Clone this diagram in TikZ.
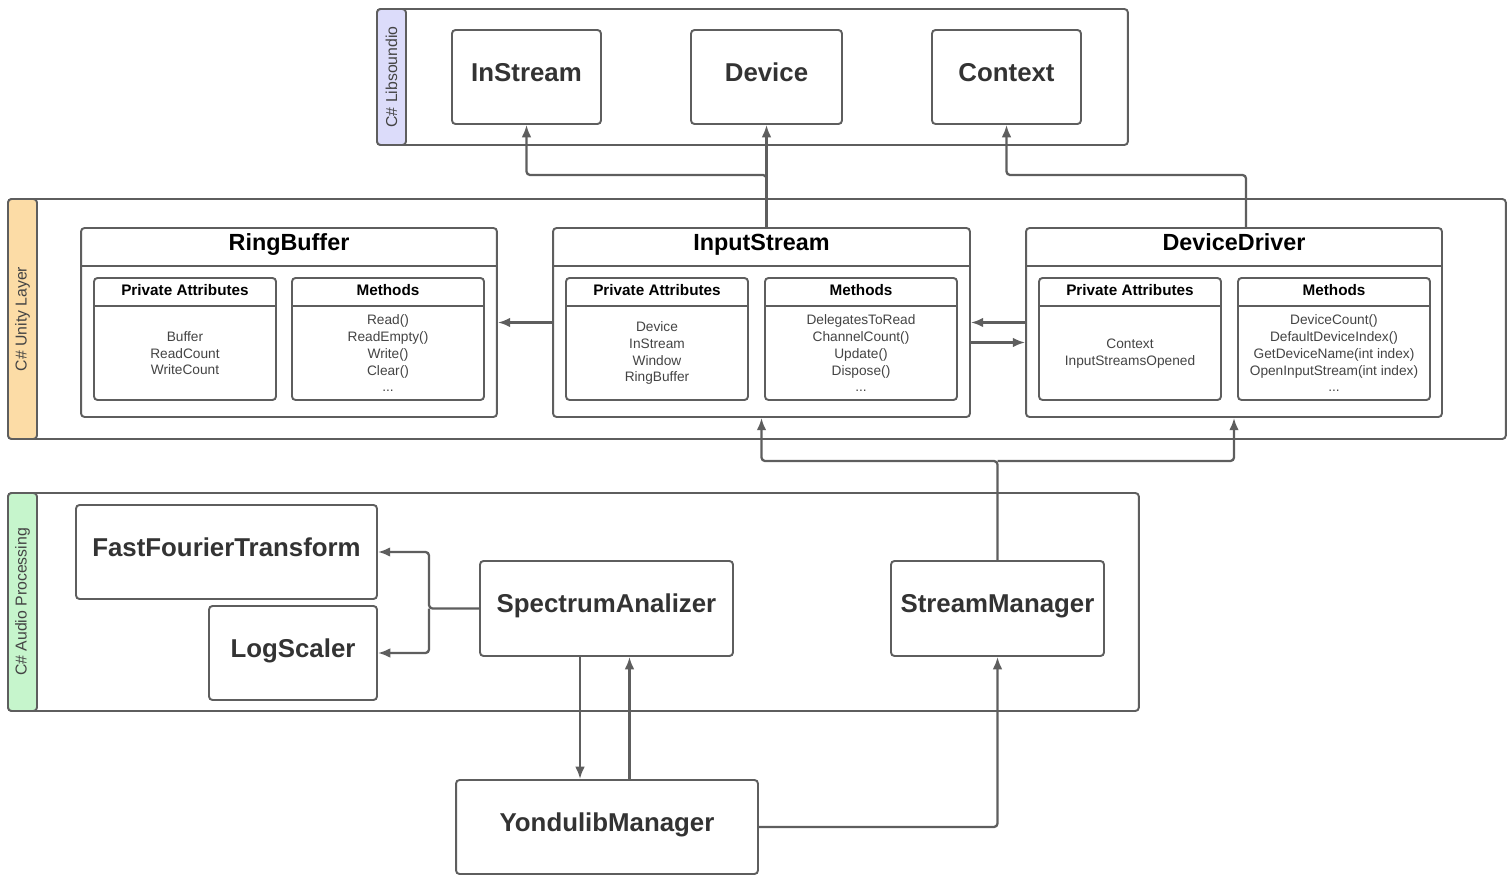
\documentclass[tikz,border=0pt]{standalone}
\usepackage{fontspec}
\setmainfont{Liberation Sans}
\usetikzlibrary{arrows.meta,calc}

\definecolor{linegray}{HTML}{5E5E5E}
\definecolor{textgray}{HTML}{333333}
\definecolor{bodygray}{HTML}{444444}
\definecolor{lanepurple}{HTML}{DCDCFA}
\definecolor{laneorange}{HTML}{FCDCA6}
\definecolor{lanegreen}{HTML}{C6F5CC}

\begin{document}
\begin{tikzpicture}[x=0.02cm, y=-0.02cm,
  every node/.style={inner sep=0pt, font=\fontsize{7.8}{9.5}\selectfont, text=bodygray},
  lane/.style={draw=linegray, fill=white, line width=1.1pt, rounded corners=2pt},
  lanetag/.style={draw=linegray, line width=1.1pt, rounded corners=2pt, rotate=90,
    minimum height=0.58cm, font=\fontsize{9}{11}\selectfont, text=bodygray},
  box/.style={draw=linegray, fill=white, line width=1.1pt, rounded corners=2pt,
    text height=0.72em, text depth=0.25em,
    font=\fontsize{14.7}{16}\selectfont\bfseries, text=textgray},
  classbox/.style={draw=linegray, fill=white, line width=1.1pt, rounded corners=2pt,
    minimum height=3.78cm},
  classtitle/.style={anchor=north, minimum height=0.76cm, text height=0.72em, text depth=0.25em,
    font=\fontsize{13.3}{15}\selectfont\bfseries, text=black},
  part/.style={draw=linegray, line width=1.1pt, rounded corners=2pt, minimum height=2.44cm},
  parthead/.style={anchor=north, minimum height=0.56cm, text height=0.72em, text depth=0.22em,
    font=\fontsize{8.7}{10}\selectfont\bfseries, text=black},
  partbody/.style={align=center},
  conn/.style={draw=linegray, line width=1.3pt, rounded corners=2pt,
    -{Latex[length=7pt, width=5.5pt]}}
]
\useasboundingbox (0,0) rectangle (1512,878);

% ---- C# Libsoundio ----
\node[lane, minimum width=15.02cm, minimum height=2.72cm] (soundio) at (752.5,77) {};
\node[lanetag, fill=lanepurple, minimum width=2.72cm] (soundiotag) at (391.5,77) {C\# Libsoundio};

\node[box, minimum width=2.98cm, minimum height=1.88cm] (instream) at (526.5,77) {InStream};
\node[box, minimum width=3.02cm, minimum height=1.88cm] (device) at (766.5,77) {Device};
\node[box, minimum width=2.98cm, minimum height=1.88cm] (context) at (1006.5,77) {Context};

% ---- C# Unity Layer ----
\node[lane, minimum width=29.96cm, minimum height=4.8cm] (unity) at (757,319) {};
\node[lanetag, fill=laneorange, minimum width=4.8cm] (unitytag) at (22.5,319) {C\# Unity Layer};

% RingBuffer
\node[classbox, minimum width=8.32cm] (ringbuffer) at (289,322.5) {};
\node[classtitle, minimum width=8.32cm] (rbtitle) at (ringbuffer.north) {RingBuffer};
\draw[linegray, line width=1.1pt] (rbtitle.south west) -- (rbtitle.south east);

\node[part, minimum width=3.64cm] (rbattr) at (185,339) {};
\node[parthead, minimum width=3.64cm] (rbattrhead) at (rbattr.north) {Private Attributes};
\draw[linegray, line width=1.1pt] (rbattrhead.south west) -- (rbattrhead.south east);
\node[partbody] (rbattrbody) at ($(rbattrhead.south)!0.5!(rbattr.south)$)
  {Buffer\\ReadCount\\WriteCount};

\node[part, minimum width=3.84cm] (rbmeth) at (388,339) {};
\node[parthead, minimum width=3.84cm] (rbmethhead) at (rbmeth.north) {Methods};
\draw[linegray, line width=1.1pt] (rbmethhead.south west) -- (rbmethhead.south east);
\node[partbody] (rbmethbody) at ($(rbmethhead.south)!0.5!(rbmeth.south)$)
  {Read()\\ReadEmpty()\\Write()\\Clear()\\...};

% InputStream
\node[classbox, minimum width=8.34cm] (inputstream) at (761.5,322.5) {};
\node[classtitle, minimum width=8.34cm] (istitle) at (inputstream.north) {InputStream};
\draw[linegray, line width=1.1pt] (istitle.south west) -- (istitle.south east);

\node[part, minimum width=3.64cm] (isattr) at (657,339) {};
\node[parthead, minimum width=3.64cm] (isattrhead) at (isattr.north) {Private Attributes};
\draw[linegray, line width=1.1pt] (isattrhead.south west) -- (isattrhead.south east);
\node[partbody] (isattrbody) at ($(isattrhead.south)!0.5!(isattr.south)$)
  {Device\\InStream\\Window\\RingBuffer};

\node[part, minimum width=3.84cm] (ismeth) at (861,339) {};
\node[parthead, minimum width=3.84cm] (ismethhead) at (ismeth.north) {Methods};
\draw[linegray, line width=1.1pt] (ismethhead.south west) -- (ismethhead.south east);
\node[partbody] (ismethbody) at ($(ismethhead.south)!0.5!(ismeth.south)$)
  {DelegatesToRead\\ChannelCount()\\Update()\\Dispose()\\...};

% DeviceDriver
\node[classbox, minimum width=8.32cm] (devdriver) at (1234,322.5) {};
\node[classtitle, minimum width=8.32cm] (ddtitle) at (devdriver.north) {DeviceDriver};
\draw[linegray, line width=1.1pt] (ddtitle.south west) -- (ddtitle.south east);

\node[part, minimum width=3.64cm] (ddattr) at (1130,339) {};
\node[parthead, minimum width=3.64cm] (ddattrhead) at (ddattr.north) {Private Attributes};
\draw[linegray, line width=1.1pt] (ddattrhead.south west) -- (ddattrhead.south east);
\node[partbody] (ddattrbody) at ($(ddattrhead.south)!0.5!(ddattr.south)$)
  {Context\\InputStreamsOpened};

\node[part, minimum width=3.84cm] (ddmeth) at (1334,339) {};
\node[parthead, minimum width=3.84cm] (ddmethhead) at (ddmeth.north) {Methods};
\draw[linegray, line width=1.1pt] (ddmethhead.south west) -- (ddmethhead.south east);
\node[partbody] (ddmethbody) at ($(ddmethhead.south)!0.5!(ddmeth.south)$)
  {DeviceCount()\\DefaultDeviceIndex()\\GetDeviceName(int index)\\OpenInputStream(int index)\\...};

% ---- C# Audio Processing ----
\node[lane, minimum width=22.62cm, minimum height=4.36cm] (audio) at (573.5,602) {};
\node[lanetag, fill=lanegreen, minimum width=4.36cm] (audiotag) at (22.5,602) {C\# Audio Processing};

\node[box, minimum width=6.02cm, minimum height=1.88cm] (fft) at (226.5,552) {FastFourierTransform};
\node[box, minimum width=3.36cm, minimum height=1.88cm] (logscaler) at (293,653) {LogScaler};
\node[box, minimum width=5.06cm, minimum height=1.9cm] (specan) at (606.5,608.5) {SpectrumAnalizer};
\node[box, minimum width=4.26cm, minimum height=1.9cm] (streammgr) at (997.5,608.5) {StreamManager};

% ---- outside ----
\node[box, minimum width=6.04cm, minimum height=1.88cm] (yondulib) at (607,827) {YondulibManager};

% ---- connectors ----
\coordinate (isbend) at (766.5,175);
\coordinate (ctxbend) at (1246,175);
\coordinate (smbend) at (997.5,461);
\coordinate (sabend) at (429,608.5);

\draw[conn] (isbend |- inputstream.north) -- (isbend) -| (instream.south);
\draw[conn] (isbend |- inputstream.north) -- (device.south);
\draw[conn] (ctxbend |- devdriver.north) -- (ctxbend) -| (context.south);

\draw[conn] (inputstream.west) -- (ringbuffer.east);
\draw[conn] (devdriver.west) -- (inputstream.east);
\draw[conn] ([yshift=-0.4cm]inputstream.east) -- ([yshift=-0.4cm]devdriver.west);

\draw[conn] (streammgr.north) -- (smbend) -| (inputstream.south);
\draw[conn] (smbend) -| (devdriver.south);

\draw[conn] (specan.west) -- (sabend) |- (fft.east);
\draw[conn] (sabend) |- (logscaler.east);

\draw[conn] ([xshift=-0.53cm]specan.south) -- ([xshift=-0.53cm]specan.south |- yondulib.north);
\draw[conn] ([xshift=0.45cm]yondulib.north) -- ([xshift=0.45cm]yondulib.north |- specan.south);
\draw[conn] (yondulib.east) -| (streammgr.south);

\end{tikzpicture}
\end{document}
